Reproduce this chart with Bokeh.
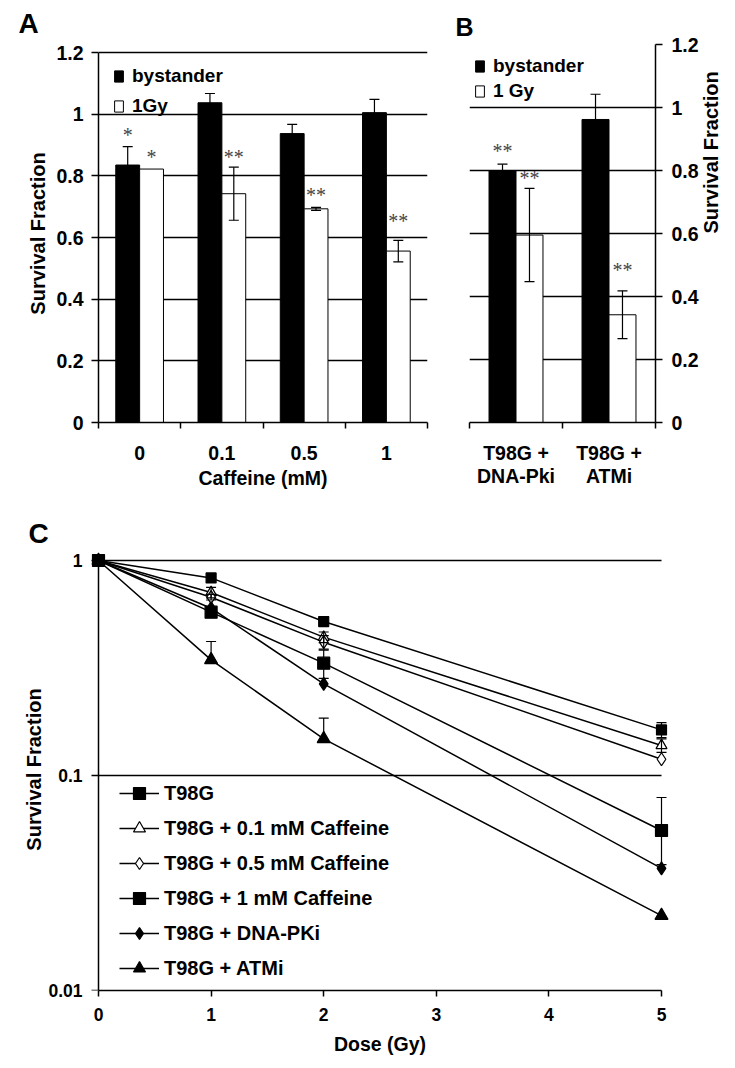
import math
from bokeh.plotting import figure
from bokeh.models import (Range1d, FixedTicker, ColumnDataSource, LogAxis,
                          Legend, LegendItem)
from bokeh.layouts import row, column
from bokeh.embed import file_html
from bokeh.resources import INLINE
from bokeh.core.properties import value

# ---------------- data: panel A ----------------
caffeine_mM = ["0", "0.1", "0.5", "1"]
a_bystander = [0.835, 1.037, 0.937, 1.005]
a_bystander_err = [0.06, 0.03, 0.03, 0.043]
a_1gy = [0.822, 0.742, 0.693, 0.556]
a_1gy_err = [0.0, 0.086, 0.005, 0.035]
a_star_text = ["*", "*", "**", "**", "**"]
a_star_group = [0, 0, 1, 2, 3]
a_star_series = [0, 1, 1, 1, 1]          # 0 = bystander, 1 = irradiated
a_star_y = [0.94, 0.868, 0.868, 0.745, 0.66]

# ---------------- data: panel B ----------------
inhibitors = ["T98G +\nDNA-Pki", "T98G +\nATMi"]
b_bystander = [0.80, 0.962]
b_bystander_err = [0.02, 0.08]
b_1gy = [0.595, 0.342]
b_1gy_err = [0.148, 0.076]
b_star_text = ["**", "**", "**"]
b_star_group = [0, 0, 1]
b_star_series = [0, 1, 1]
b_star_y = [0.869, 0.783, 0.492]

survival_ticks = [0, 0.2, 0.4, 0.6, 0.8, 1.0, 1.2]
survival_tick_labels = ["0", "0.2", "0.4", "0.6", "0.8", "1", "1.2"]

# ---------------- data: panel C ----------------
dose_gy = [0, 1, 2, 5]
c_labels = ["T98G", "T98G + 0.1 mM Caffeine", "T98G + 0.5 mM Caffeine",
            "T98G + 1 mM Caffeine", "T98G + DNA-PKi", "T98G + ATMi"]
sf_t98g = [1.0, 0.83, 0.52, 0.163]
sf_caf01 = [1.0, 0.71, 0.44, 0.138]
sf_caf05 = [1.0, 0.675, 0.417, 0.119]
sf_caf1 = [1.0, 0.575, 0.333, 0.0555]
sf_dnapk = [1.0, 0.60, 0.267, 0.037]
sf_atm = [1.0, 0.345, 0.148, 0.0223]
err_up_t98g = [0, 0, 0, 0.013]
err_lo_t98g = [0, 0, 0, 0.013]
err_up_caf01 = [0, 0.04, 0.025, 0.01]
err_lo_caf01 = [0, 0.04, 0.025, 0.01]
err_up_caf05 = [0, 0.02, 0.03, 0]
err_lo_caf05 = [0, 0.02, 0.03, 0]
err_up_caf1 = [0, 0.01, 0.05, 0.0235]
err_lo_caf1 = [0, 0.01, 0.05, 0.017]
err_up_dnapk = [0, 0, 0, 0]
err_lo_dnapk = [0, 0, 0, 0]
err_up_atm = [0, 0.075, 0.037, 0]
err_lo_atm = [0, 0, 0, 0]
dose_ticks = [0, 1, 2, 3, 4, 5]
log_ticks = [0.01, 0.1, 1]
log_tick_labels = ["0.01", "0.1", "1"]

# ---------------- styling ----------------
FONT = "Liberation Sans"
STAR_FONT = "Liberation Serif"
BAR_W = 0.29
OFF = 0.145


def style_axis(ax, tick_size, label_size):
    ax.axis_line_color = "black"
    ax.axis_line_width = 1.5
    ax.major_tick_line_color = "black"
    ax.major_tick_line_width = 1.5
    ax.minor_tick_line_color = "black"
    ax.minor_tick_line_width = 1.5
    ax.major_tick_in = 0
    ax.minor_tick_in = 0
    ax.major_label_text_font = FONT
    ax.major_label_text_font_style = "bold"
    ax.major_label_text_font_size = tick_size
    ax.major_label_text_color = "black"
    ax.axis_label_text_font = FONT
    ax.axis_label_text_font_style = "bold"
    ax.axis_label_text_font_size = label_size
    ax.axis_label_text_color = "black"


def error_glyphs(p, xs, vals, up, lo, cap=10, level="glyph"):
    sx, y0, y1, cx, cy = [], [], [], [], []
    for x, v, eu, el in zip(xs, vals, up, lo):
        if eu > 0 or el > 0:
            sx.append(x)
            y0.append(v - el)
            y1.append(v + eu)
        if eu > 0:
            cx.append(x)
            cy.append(v + eu)
        if el > 0:
            cx.append(x)
            cy.append(v - el)
    if sx:
        p.segment(x0=sx, x1=sx, y0=y0, y1=y1, line_color="black", line_width=1.2, level=level)
        p.scatter(cx, cy, marker="dash", size=cap, line_color="black", line_width=1.2,
                  level=level)


def panel_letter(p, text, offset, size, standoff, valign):
    p.title.text = text
    p.title.align = "left"
    p.title.offset = offset
    p.title.standoff = standoff
    p.title.vertical_align = valign
    p.title.text_font = FONT
    p.title.text_font_style = "bold"
    p.title.text_font_size = size
    p.title.text_color = "black"


def bar_panel(cats, byst, byst_err, gy, gy_err, s_text, s_group, s_series, s_y,
              gy_label, side, width, height, mb, y_end, xlabel, x_label_standoff,
              x_tick_standoff, leg):
    n = len(cats)
    p = figure(width=width, height=height, x_range=Range1d(0, n),
               y_range=Range1d(survival_ticks[0], y_end),
               y_axis_location=side, output_backend="svg", toolbar_location=None,
               min_border_left=mb[0], min_border_right=mb[1], min_border_top=mb[2],
               min_border_bottom=mb[3])
    p.outline_line_color = None
    p.background_fill_color = "white"
    p.border_fill_color = "white"
    p.xgrid.visible = False
    yt = FixedTicker(ticks=survival_ticks)
    p.yaxis.ticker = yt
    p.yaxis.bounds = (survival_ticks[0], survival_ticks[-1])
    p.ygrid.ticker = yt
    p.ygrid.grid_line_color = "black"
    p.ygrid.grid_line_width = 1.3
    centers = [i + 0.5 for i in range(n)]
    xb = [c - OFF for c in centers]
    xg = [c + OFF for c in centers]
    src = ColumnDataSource(dict(xb=xb, xg=xg, byst=byst, gy=gy))
    rb = p.vbar(x="xb", top="byst", width=BAR_W, source=src, fill_color="black",
                line_color="black", line_width=1)
    rg = p.vbar(x="xg", top="gy", width=BAR_W, source=src, fill_color="white",
                line_color="black", line_width=1)
    error_glyphs(p, xb, byst, byst_err, byst_err, cap=10)
    error_glyphs(p, xg, gy, gy_err, gy_err, cap=10)
    sx = [centers[g] + (OFF if s == 1 else -OFF) for g, s in zip(s_group, s_series)]
    ssrc = ColumnDataSource(dict(x=sx, y=s_y, t=s_text))
    p.text(x="x", y="y", text="t", source=ssrc, text_font=value(STAR_FONT),
           text_font_size="20px", text_color="#444444", text_align="center",
           text_baseline="middle", y_offset=2)
    # axes
    style_axis(p.xaxis[0], "19.5px", "19.5px")
    style_axis(p.yaxis[0], "19.5px", "20px")
    p.xaxis.ticker = FixedTicker(ticks=centers, minor_ticks=list(range(n + 1)))
    p.xaxis.major_label_overrides = {c: lab for c, lab in zip(centers, cats)}
    p.xaxis.major_tick_out = 0
    p.xaxis.minor_tick_out = 6
    p.xaxis.major_label_standoff = x_tick_standoff
    p.xaxis.major_label_text_line_height = 1.05
    p.xaxis.axis_label = xlabel
    p.xaxis.axis_label_standoff = x_label_standoff
    p.yaxis.major_label_overrides = {t: lab for t, lab in zip(survival_ticks, survival_tick_labels)}
    p.yaxis.major_tick_out = 7
    p.yaxis.minor_tick_out = 0
    p.yaxis.axis_label = "Survival Fraction"
    legend = Legend(items=[LegendItem(label="bystander", renderers=[rb]),
                           LegendItem(label=gy_label, renderers=[rg])],
                    location=leg["loc"], padding=leg["pad"], margin=0,
                    spacing=leg["spacing"], glyph_width=11, glyph_height=14,
                    label_height=22, label_standoff=leg["standoff"],
                    label_text_font=FONT, label_text_font_style="bold",
                    label_text_font_size="19px", label_text_color="black",
                    border_line_color=None, background_fill_color="white",
                    background_fill_alpha=leg["alpha"])
    p.add_layout(legend)
    return p


# ---------------- panel A ----------------
# frame 44..422 px; 1.2 sits at 52 px, so the range runs a little above 1.2
a_y_end = survival_ticks[-1] * 378 / 370
pA = bar_panel(caffeine_mM, a_bystander, a_bystander_err, a_1gy, a_1gy_err,
               a_star_text, a_star_group, a_star_series, a_star_y, "1Gy", "left",
               450, 495, (98, 23, 44, 73), a_y_end, "Caffeine (mM)", 4, 17,
               dict(loc=(15, 305), pad=6, spacing=8, standoff=8, alpha=0.0))
pA.yaxis.major_label_standoff = 8
pA.yaxis.axis_label_standoff = 4
panel_letter(pA, "A", -80, "28px", 8, "top")

# ---------------- panel B ----------------
pB = bar_panel(inhibitors, b_bystander, b_bystander_err, b_1gy, b_1gy_err,
               b_star_text, b_star_group, b_star_series, b_star_y, "1 Gy", "right",
               285, 495, (19, 75, 44, 73), survival_ticks[-1], None, 0, 13,
               dict(loc=(5, 320), pad=4, spacing=3, standoff=8, alpha=1.0))
pB.yaxis.major_label_standoff = 9
pB.yaxis.axis_label_standoff = 9
pB.yaxis.axis_label_orientation = math.pi / 2
panel_letter(pB, "B", -14, "25px", 7, "bottom")

# ---------------- panel C ----------------
px_per_gy = 112.6
pad_x = 11 / px_per_gy
pC = figure(width=735, height=573, x_range=Range1d(dose_ticks[0] - pad_x, dose_ticks[-1] + pad_x),
            y_range=Range1d(log_ticks[0], 10 ** (12 / 215)), y_axis_type="log",
            output_backend="svg", toolbar_location=None,
            min_border_left=87, min_border_right=63, min_border_top=53, min_border_bottom=78)
pC.outline_line_color = None
pC.xgrid.visible = False
pC.ygrid.visible = False
grid_vals = log_ticks[1:]
pC.segment(x0=[dose_ticks[0]] * len(grid_vals), x1=[dose_ticks[-1]] * len(grid_vals),
           y0=grid_vals, y1=grid_vals, line_color="black", line_width=1.3)

series = [sf_t98g, sf_caf01, sf_caf05, sf_caf1, sf_dnapk, sf_atm]
ups = [err_up_t98g, err_up_caf01, err_up_caf05, err_up_caf1, err_up_dnapk, err_up_atm]
los = [err_lo_t98g, err_lo_caf01, err_lo_caf05, err_lo_caf1, err_lo_dnapk, err_lo_atm]
markers = ["square", "triangle", "diamond", "square", "diamond", "triangle"]
fills = ["black", "white", "white", "black", "black", "black"]
sizes = [10, 11, 13, 12, 13, 13]

line_rs = []
for vals in series:
    line_rs.append(pC.line(dose_gy, vals, line_color="black", line_width=1.5))
mark_rs = []
for vals, m, f, sz in zip(series, markers, fills, sizes):
    mark_rs.append(pC.scatter(dose_gy, vals, marker=m, size=sz, fill_color=f,
                              line_color="black", line_width=1.2))
for vals, up, lo in zip(series, ups, los):
    error_glyphs(pC, dose_gy, vals, up, lo, cap=10)

# x axis
style_axis(pC.xaxis[0], "17.5px", "19.5px")
pC.xaxis.ticker = FixedTicker(ticks=dose_ticks)
pC.xaxis.bounds = (dose_ticks[0], dose_ticks[-1])
pC.xaxis.major_tick_out = 6
pC.xaxis.minor_tick_out = 0
pC.xaxis.major_label_standoff = 11
pC.xaxis.axis_label = "Dose (Gy)"
pC.xaxis.axis_label_standoff = 9

# y axis: labels on the frame edge, the drawn axis line sits at dose 0
ylab = pC.yaxis[0]
style_axis(ylab, "17.5px", "20px")
ylab.ticker = FixedTicker(ticks=log_ticks)
ylab.bounds = (log_ticks[0], log_ticks[-1])
ylab.major_label_overrides = {t: lab for t, lab in zip(log_ticks, log_tick_labels)}
ylab.axis_line_color = None
ylab.major_tick_line_color = None
ylab.minor_tick_line_color = None
ylab.major_tick_out = 0
ylab.minor_tick_out = 0
ylab.major_label_standoff = 5
ylab.axis_label = "Survival Fraction"
ylab.axis_label_standoff = 0

yline = LogAxis(ticker=FixedTicker(ticks=log_ticks), fixed_location=dose_ticks[0],
                bounds=(log_ticks[0], log_ticks[-1]))
style_axis(yline, "17.5px", "20px")
yline.major_label_overrides = {t: "" for t in log_ticks}
yline.major_tick_out = 7
yline.minor_tick_out = 0
yline.major_label_standoff = 0
pC.add_layout(yline, "left")

legC = Legend(items=[LegendItem(label=lab, renderers=[lr, mr])
                     for lab, lr, mr in zip(c_labels, line_rs, mark_rs)],
              location=(32, 7), padding=0, margin=0, spacing=5, glyph_width=40,
              glyph_height=30, label_height=30, label_standoff=5,
              label_text_font=FONT, label_text_font_style="bold",
              label_text_font_size="20px", label_text_color="black",
              border_line_color=None, background_fill_color="white",
              background_fill_alpha=1.0)
pC.add_layout(legC)
panel_letter(pC, "C", -59, "28px", 0, "bottom")

layout = column(row(pA, pB), pC)
open("out.html", "w").write(file_html(layout, INLINE))
